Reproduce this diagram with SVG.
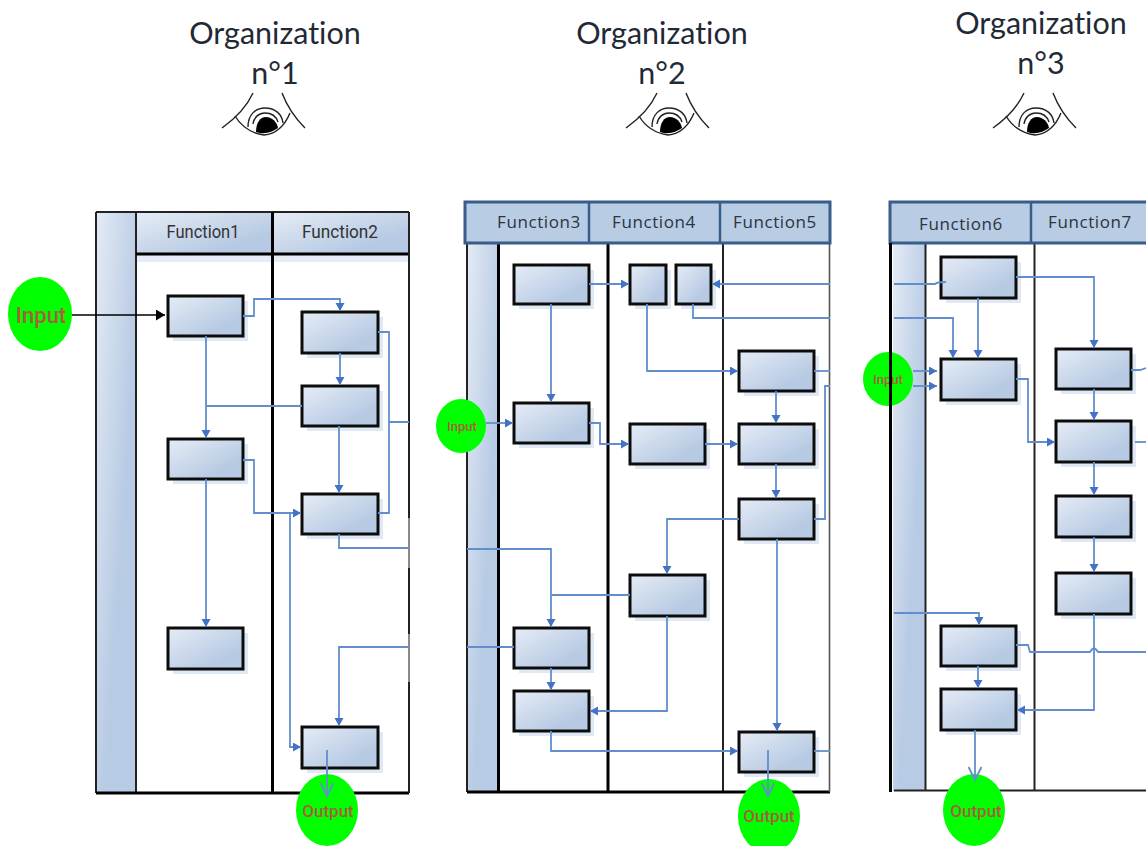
<svg xmlns="http://www.w3.org/2000/svg" width="1146" height="846" viewBox="0 0 1146 846">
<style>
.t{font-family:"Lato","Noto Sans",sans-serif;font-size:30.500px;fill:#1f2a36;text-anchor:middle;font-variant-ligatures:none}
.f1{font-family:"Roboto","Liberation Sans",sans-serif;font-size:18px;fill:#333;text-anchor:middle}
.f2{font-family:"Open Sans","Noto Sans",sans-serif;font-size:17px;letter-spacing:.6px;fill:#2b3440;text-anchor:middle}
.io{font-family:"Roboto","Liberation Sans",sans-serif;fill:#a8603c;text-anchor:middle;font-weight:500}
.g{fill:#00ff00}
.b{fill:url(#bx);stroke:#0c0c0c;stroke-width:3}
.s{fill:#dfe8f5}
.c{fill:none;stroke:#628ecd;stroke-width:1.800}
.a{marker-end:url(#ah)}
.o{marker-end:url(#op)}
.k{fill:none;stroke:#000;stroke-width:3}
.k2{fill:none;stroke:#222;stroke-width:2}
.h{fill:#b8cce4;stroke:#385d8a;stroke-width:3}
.e{fill:none;stroke:#222;stroke-width:1.400}
</style>
<defs>
<linearGradient id="bx" x1="0" y1="0" x2="1" y2="1"><stop offset="0" stop-color="#e6ecf6"/><stop offset=".75" stop-color="#b7cae3"/><stop offset="1" stop-color="#b7cae3"/></linearGradient>
<linearGradient id="bd" x1="0" y1="0" x2="1" y2="1"><stop offset="0" stop-color="#e4ebf5"/><stop offset=".6" stop-color="#b8cbe4"/><stop offset="1" stop-color="#b8cbe4"/></linearGradient>
<marker id="ah" markerUnits="userSpaceOnUse" markerWidth="10" markerHeight="10" refX="8" refY="4.500" orient="auto"><path d="M0 0L8 4.500L0 9z" fill="#4472c4"/></marker>
<marker id="bk" markerUnits="userSpaceOnUse" markerWidth="11" markerHeight="12" refX="9" refY="5.500" orient="auto"><path d="M0 0L9 5.500L0 11z" fill="#000"/></marker>
<marker id="op" markerUnits="userSpaceOnUse" markerWidth="16" markerHeight="16" refX="14" refY="8" orient="auto"><path d="M1 1.500L14 8L1 14.500" fill="none" stroke="#628ecd" stroke-width="1.800"/></marker>
<g id="eye">
<path class="e" d="M253 93C247 106 236 118 222 128"/>
<path class="e" d="M282 93C287 106 295 118 305 128"/>
<path class="e" d="M235 116C241 126 250 133 264 135C276 134 285 125 290 113"/>
<path class="e" d="M248 127C248 114 256 108 265 108C275 108 282 114 283 123"/>
<path class="e" d="M253 124C254 117 259 113 265 113C271 113 276 116 278 122"/>
<path d="M256 132C256 123 260 117 266 117C272 117 277 122 278 128C272 132 265 135 256 132z" fill="#000"/>
</g>
</defs>
<rect width="1146" height="846" fill="#fff"/>

<g id="titles">
<text class="t" x="275" y="44">Organization</text><text class="t" x="275" y="84">n°1</text>
<text class="t" x="662" y="44">Organization</text><text class="t" x="662" y="84">n°2</text>
<text class="t" x="1041" y="34">Organization</text><text class="t" x="1041" y="74">n°3</text>
<use href="#eye"/>
<use href="#eye" x="404"/>
<use href="#eye" x="771"/>
</g>

<g id="lane1">
<rect x="136" y="255" width="273" height="7" fill="#e6edf7"/>
<rect x="96" y="212" width="40" height="581" fill="url(#bd)"/>
<rect x="136" y="212" width="136" height="42" fill="url(#bx)"/>
<rect x="272" y="212" width="137" height="42" fill="url(#bx)"/>
<path class="k2" d="M96 212H409M96 212V793M136 212V793"/>
<path class="k" d="M96 793H409M272.500 212V793M136 254H409"/>
<path class="k2" d="M409 212V518M409 568V634M409 682V793"/>
<path d="M409 518V568M409 634V682" fill="none" stroke="#8a8a8a" stroke-width="2"/>
<text class="f1" x="203" y="238" textLength="73" lengthAdjust="spacingAndGlyphs">Function1</text>
<text class="f1" x="340" y="238" textLength="76" lengthAdjust="spacingAndGlyphs">Function2</text>
</g>
<g id="lane2">
<rect x="467" y="243" width="32" height="549" fill="url(#bd)"/>
<path class="k2" d="M467 243V792M723 243V792"/>
<path class="k" d="M498.500 243V792M608 243V792M467 792H830"/>
<path d="M829.500 243V792" fill="none" stroke="#555" stroke-width="1.600"/>
<rect class="h" x="465" y="202" width="365" height="41"/>
<path d="M589 202V243M720 202V243" fill="none" stroke="#385d8a" stroke-width="2.500"/>
<text class="f2" x="539" y="228">Function3</text>
<text class="f2" x="654" y="228">Function4</text>
<text class="f2" x="775" y="228">Function5</text>
</g>
<g id="lane3">
<rect x="893" y="243" width="32" height="548" fill="url(#bd)"/>
<path class="k2" d="M925.500 243V791M1034.500 243V791M894 790.500H1146"/>
<rect class="h" x="890" y="202" width="260" height="41"/>
<path d="M1031 202V243" fill="none" stroke="#385d8a" stroke-width="2.500"/>
<text class="f2" x="961" y="230">Function6</text>
<text class="f2" x="1090" y="228">Function7</text>
</g>

<g id="n1"><rect class="s" x="173" y="301" width="75" height="40"/><rect class="b" x="168" y="296" width="75" height="40"/></g>
<g id="n2"><rect class="s" x="307" y="317" width="76" height="41"/><rect class="b" x="302" y="312" width="76" height="41"/></g>
<g id="n3"><rect class="s" x="307" y="391" width="76" height="40"/><rect class="b" x="302" y="386" width="76" height="40"/></g>
<g id="n4"><rect class="s" x="173" y="444" width="75" height="40"/><rect class="b" x="168" y="439" width="75" height="40"/></g>
<g id="n5"><rect class="s" x="307" y="499" width="76" height="40"/><rect class="b" x="302" y="494" width="76" height="40"/></g>
<g id="n6"><rect class="s" x="173" y="633" width="75" height="41"/><rect class="b" x="168" y="628" width="75" height="41"/></g>
<g id="n7"><rect class="s" x="307" y="732" width="76" height="41"/><rect class="b" x="302" y="727" width="76" height="41"/></g>

<g id="n8"><rect class="s" x="519" y="270" width="75" height="39"/><rect class="b" x="514" y="265" width="75" height="39"/></g>
<g id="n9"><rect class="s" x="635" y="270" width="36" height="39"/><rect class="b" x="630" y="265" width="36" height="39"/></g>
<g id="n10"><rect class="s" x="681" y="270" width="35" height="39"/><rect class="b" x="676" y="265" width="35" height="39"/></g>
<g id="n11"><rect class="s" x="744" y="356" width="75" height="40"/><rect class="b" x="739" y="351" width="75" height="40"/></g>
<g id="n12"><rect class="s" x="519" y="408" width="75" height="40"/><rect class="b" x="514" y="403" width="75" height="40"/></g>
<g id="n13"><rect class="s" x="635" y="429" width="75" height="40"/><rect class="b" x="630" y="424" width="75" height="40"/></g>
<g id="n14"><rect class="s" x="744" y="429" width="75" height="40"/><rect class="b" x="739" y="424" width="75" height="40"/></g>
<g id="n15"><rect class="s" x="744" y="504" width="75" height="40"/><rect class="b" x="739" y="499" width="75" height="40"/></g>
<g id="n16"><rect class="s" x="635" y="580" width="75" height="41"/><rect class="b" x="630" y="575" width="75" height="41"/></g>
<g id="n17"><rect class="s" x="519" y="633" width="75" height="40"/><rect class="b" x="514" y="628" width="75" height="40"/></g>
<g id="n18"><rect class="s" x="519" y="696" width="75" height="40"/><rect class="b" x="514" y="691" width="75" height="40"/></g>
<g id="n19"><rect class="s" x="744" y="737" width="75" height="40"/><rect class="b" x="739" y="732" width="75" height="40"/></g>

<g id="n20"><rect class="s" x="946" y="262" width="75" height="41"/><rect class="b" x="941" y="257" width="75" height="41"/></g>
<g id="n21"><rect class="s" x="946" y="364" width="75" height="41"/><rect class="b" x="941" y="359" width="75" height="41"/></g>
<g id="n22"><rect class="s" x="1061" y="354" width="75" height="40"/><rect class="b" x="1056" y="349" width="75" height="40"/></g>
<g id="n23"><rect class="s" x="1061" y="426" width="75" height="41"/><rect class="b" x="1056" y="421" width="75" height="41"/></g>
<g id="n24"><rect class="s" x="1061" y="501" width="75" height="41"/><rect class="b" x="1056" y="496" width="75" height="41"/></g>
<g id="n25"><rect class="s" x="1061" y="578" width="75" height="41"/><rect class="b" x="1056" y="573" width="75" height="41"/></g>
<g id="n26"><rect class="s" x="946" y="631" width="75" height="40"/><rect class="b" x="941" y="626" width="75" height="40"/></g>
<g id="n27"><rect class="s" x="946" y="694" width="75" height="41"/><rect class="b" x="941" y="689" width="75" height="41"/></g>

<g id="input1"><ellipse class="g" cx="40" cy="314" rx="32" ry="37"/><text class="io" x="41" y="323" font-size="22">Input</text></g>
<g id="output1"><ellipse class="g" cx="327" cy="810" rx="31" ry="36"/><text class="io" x="328" y="817" font-size="17">Output</text></g>
<g id="input2"><ellipse class="g" cx="461" cy="426" rx="25" ry="27"/><text class="io" x="462" y="431" font-size="13">Input</text></g>
<g id="output2"><ellipse class="g" cx="769" cy="816" rx="31" ry="37"/><text class="io" x="769" y="822" font-size="17">Output</text></g>
<g id="input3"><ellipse class="g" cx="888" cy="379" rx="25" ry="27"/><text class="io" x="888" y="384" font-size="13">Input</text></g>
<g id="output3"><ellipse class="g" cx="974" cy="810" rx="31" ry="36"/><text class="io" x="976" y="817" font-size="17">Output</text></g>
<path id="lane3edge" class="k" d="M890.500 243V792"/>

<g id="connectors">
<path d="M72 315H165" fill="none" stroke="#000" stroke-width="1.600" marker-end="url(#bk)"/>
<path class="c a" d="M243 316H254V299H340V311"/>
<path class="c a" d="M206 336V438"/>
<path class="c" d="M302 406H206"/>
<path class="c a" d="M340 353V385"/>
<path class="c a" d="M339 426V493"/>
<path class="c" d="M378 332H389V513H378M389 422H409"/>
<path class="c a" d="M243 460H254V513H301"/>
<path class="c" d="M339 534V548H409"/>
<path class="c a" d="M409 647H339V726"/>
<path class="c a" d="M290 513V747H301"/>
<path class="c a" d="M206 479V627"/>
<path class="c o" d="M327 750V796"/>

<path class="c a" d="M589 284H629"/>
<path class="c a" d="M830 284H712"/>
<path class="c" d="M693 304V318H830"/>
<path class="c a" d="M647 304V371H738"/>
<path class="c a" d="M551 304V402"/>
<path class="c a" d="M486 423H513"/>
<path class="c a" d="M589 423H600V444H629"/>
<path class="c a" d="M705 444H738"/>
<path class="c" d="M814 371H830"/>
<path class="c a" d="M776 391V423"/>
<path class="c a" d="M776 464V498"/>
<path class="c" d="M814 519H825V386H830"/>
<path class="c a" d="M739 519H667V574"/>
<path class="c a" d="M777 539V731"/>
<path class="c a" d="M467 549H551V627"/>
<path class="c" d="M630 595H552"/>
<path class="c" d="M514 647H467"/>
<path class="c a" d="M551 668V690"/>
<path class="c a" d="M667 616V711H590"/>
<path class="c a" d="M551 731V751H738"/>
<path class="c" d="M814 751H830"/>
<path class="c o" d="M768 750V796"/>

<path class="c" d="M894 284H935Q937 282 946 282"/>
<path class="c a" d="M894 318H953V358"/>
<path class="c a" d="M978 298V358"/>
<path class="c a" d="M1016 277H1094V348"/>
<path class="c a" d="M913 371H937"/>
<path class="c a" d="M913 386H937"/>
<path class="c a" d="M1016 379H1028V442H1055"/>
<path class="c a" d="M1094 389V420"/>
<path class="c a" d="M1094 462V495"/>
<path class="c a" d="M1094 537V572"/>
<path class="c a" d="M1094 614V710H1017"/>
<path class="c" d="M1131 370H1140L1146 368"/>
<path class="c" d="M1135 442H1146"/>
<path class="c a" d="M894 613H979V625"/>
<path class="c a" d="M978 666V688"/>
<path class="c" d="M1016 645H1028L1030 652H1090Q1094 645 1098 652H1146"/>
<path class="c o" d="M975 730V780"/>
</g>
</svg>
